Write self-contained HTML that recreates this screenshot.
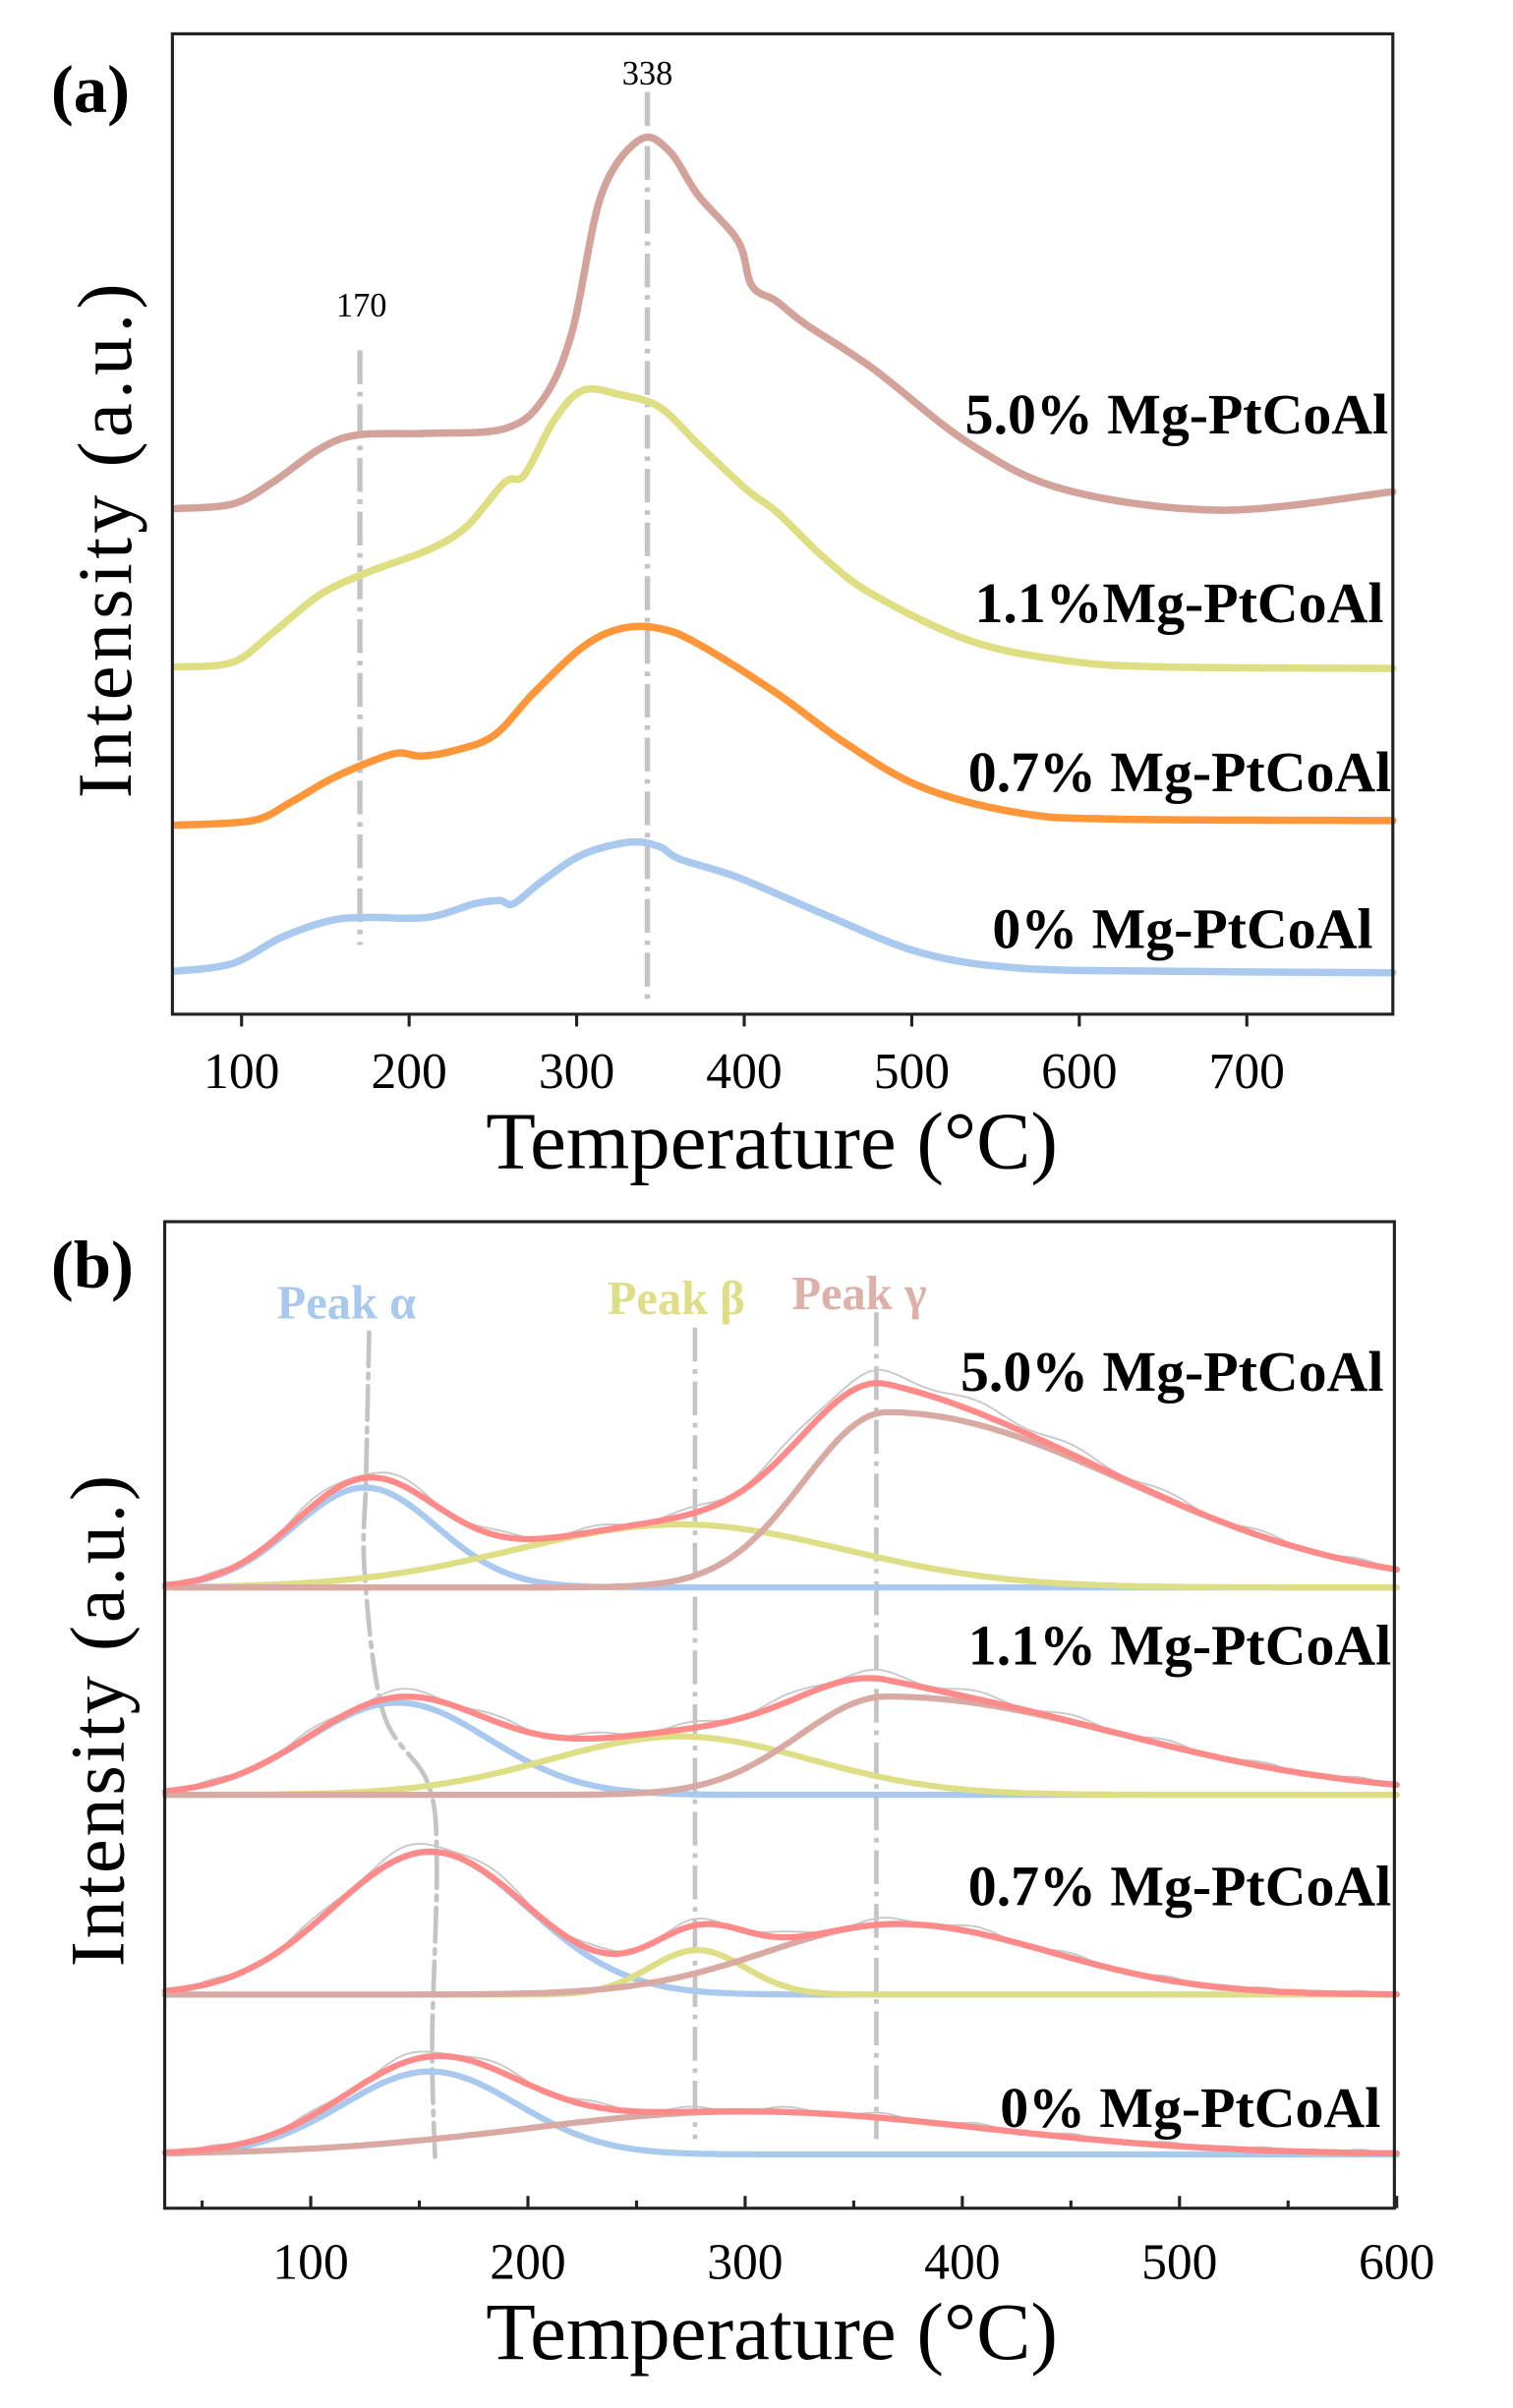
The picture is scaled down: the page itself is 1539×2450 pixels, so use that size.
<!DOCTYPE html>
<html><head><meta charset="utf-8"><style>
html,body{margin:0;padding:0;background:#fff;}
svg{display:block;}
text{font-family:"Liberation Serif",serif;}
</style></head><body>
<svg id="s" xmlns="http://www.w3.org/2000/svg" width="1539" height="2450" viewBox="0 0 984 1567">
<rect width="984" height="1567" fill="#fff"/>
<g id="a"></g>
<rect x="112" y="22" width="794" height="638" fill="none" stroke="#222" stroke-width="2"/>
<text x="33" y="73" font-size="44" font-weight="bold">(a)</text>
<text x="421" y="55" font-size="22" text-anchor="middle">338</text>
<text x="235" y="206" font-size="22" text-anchor="middle">170</text>
<g font-size="37" font-weight="bold" text-anchor="end">
<text x="903" y="282">5.0% Mg-PtCoAl</text>
<text x="900" y="405">1.1%Mg-PtCoAl</text>
<text x="905" y="515">0.7% Mg-PtCoAl</text>
<text x="893" y="617">0% Mg-PtCoAl</text>
</g>
<g font-size="33" text-anchor="middle" id="tla"></g>
<text x="502" y="760" font-size="53" text-anchor="middle">Temperature (°C)</text>
<text transform="translate(85,352) rotate(-90)" font-size="50" text-anchor="middle" textLength="335">Intensity (a.u.)</text>

<g id="b"></g>
<rect x="107" y="795" width="800" height="642" fill="none" stroke="#222" stroke-width="2"/>
<text x="33" y="838" font-size="44" font-weight="bold">(b)</text>
<g font-size="31" font-weight="bold">
<text x="180" y="858" fill="#a9c8ee">Peak α</text>
<text x="395" y="855" fill="#dede86">Peak β</text>
<text x="515" y="852" fill="#ddb0a8">Peak γ</text>
</g>
<g font-size="37" font-weight="bold" text-anchor="end">
<text x="900" y="905">5.0% Mg-PtCoAl</text>
<text x="905" y="1083">1.1% Mg-PtCoAl</text>
<text x="905" y="1240">0.7% Mg-PtCoAl</text>
<text x="898" y="1384">0% Mg-PtCoAl</text>
</g>
<g font-size="33" text-anchor="middle" id="tlb"></g>
<text x="502" y="1535" font-size="53" text-anchor="middle">Temperature (°C)</text>
<text transform="translate(80,1120) rotate(-90)" font-size="50" text-anchor="middle" textLength="320">Intensity (a.u.)</text>
</svg>
<script>
var NS="http://www.w3.org/2000/svg";
function el(p,t,a){var e=document.createElementNS(NS,t);for(var k in a)e.setAttribute(k,a[k]);p.appendChild(e);return e;}
var A=document.getElementById('a'),B=document.getElementById('b');
function poly(g,pts,c,w){var d=pts.map(function(p,i){return (i?'L':'M')+p[0].toFixed(1)+','+p[1].toFixed(1)}).join('');
el(g,'path',{d:d,fill:'none',stroke:c,'stroke-width':w,'stroke-linejoin':'round','stroke-linecap':'round'});}
function smooth(g,pts,c,w){var d='M'+pts[0][0]+','+pts[0][1];
for(var i=0;i<pts.length-1;i++){var p0=pts[Math.max(0,i-1)],p1=pts[i],p2=pts[i+1],p3=pts[Math.min(pts.length-1,i+2)];
d+='C'+(p1[0]+(p2[0]-p0[0])/6).toFixed(1)+','+(p1[1]+(p2[1]-p0[1])/6).toFixed(1)+' '+(p2[0]-(p3[0]-p1[0])/6).toFixed(1)+','+(p2[1]-(p3[1]-p1[1])/6).toFixed(1)+' '+p2[0]+','+p2[1];}
el(g,'path',{d:d,fill:'none',stroke:c,'stroke-width':w,'stroke-linejoin':'round','stroke-linecap':'round'});}
el(A,'line',{x1:234,y1:228,x2:234,y2:615,stroke:'#c4c4c4','stroke-width':3.5,'stroke-dasharray':'22,5,3,5'});
el(A,'line',{x1:421,y1:60,x2:421,y2:650,stroke:'#c4c4c4','stroke-width':3.5,'stroke-dasharray':'22,5,3,5'});
smooth(A,[[114,331],[151,328],[177,314],[208,292],[233,283],[278,282],[328,279],[353,260],[372,216],[391,127],[416,91],[435,98],[454,127],[480,157],[489,186],[505,196],[524,211],[568,240],[631,289],[694,319],[795,332],[906,320]],'#d3a29a',4.8);
smooth(A,[[114,434],[151,431],[177,412],[208,387],[240,372],[278,358],[303,343],[328,314],[341,309],[360,274],[379,254],[404,257],[429,265],[454,289],[486,319],[505,333],[536,363],[568,387],[631,417],[694,430],[757,434],[906,435]],'#dede82',4.8);
smooth(A,[[114,537],[164,534],[189,522],[215,507],[240,496],[259,490],[274,492],[297,488],[322,478],[347,451],[379,421],[404,409],[429,409],[454,419],[505,451],[549,483],[599,512],[663,529],[726,533],[906,534]],'#ff963a',4.8);
smooth(A,[[114,632],[151,627],[183,610],[215,599],[240,597],[278,597],[309,588],[325,586],[334,588],[353,573],[379,556],[410,548],[429,551],[442,559],[480,571],[536,595],[599,620],[663,630],[757,632],[906,633]],'#a9c9ee',4.8);
var tla=document.getElementById('tla');
for(var T=100;T<=700;T+=100){var x=157+(T-100)*1.09;el(A,'line',{x1:x,y1:660,x2:x,y2:668,stroke:'#222','stroke-width':2});
var t=el(tla,'text',{x:x,y:708});t.textContent=T;}
function xb(T){return 202+(T-100)*1.413;}
function g(T,c,h,sl,sr){var s=T<c?sl:(sr||sl);return h*Math.exp(-(T-c)*(T-c)/(2*s*s));}
var sets=[
 {b:1033,comp:[[125,65,33],[270,41,75],[365,114,38,110]],cols:['#a9c9ee','#dede86','#d8aaa3']},
 {b:1168,comp:[[140,60,42],[270,38,60],[365,64,40,110]],cols:['#a9c9ee','#dede86','#d8aaa3']},
 {b:1298,comp:[[155,93,45],[278,29,22],[370,46,60,70]],cols:['#a9c9ee','#dede86','#d8aaa3']},
 {b:1402,comp:[[155,54,40],[300,28,100,110]],cols:['#a9c9ee','#d8aaa3']}];
smooth(B,[[240,867],[238,961],[237,1022],[249,1114],[278,1160],[284,1211],[281,1329],[283,1408]],'#c4c4c4',3);
B.lastChild.setAttribute('stroke-dasharray','22,5,3,5');
el(B,'line',{x1:452,y1:864,x2:452,y2:1392,stroke:'#c4c4c4','stroke-width':3,'stroke-dasharray':'22,5,3,5'});
el(B,'line',{x1:570,y1:854,x2:570,y2:1392,stroke:'#c4c4c4','stroke-width':3,'stroke-dasharray':'22,5,3,5'});
sets.forEach(function(s){
 var sum=[],raw=[];
 s.comp.forEach(function(c,i){var pts=[];
  for(var T=33;T<=600;T+=3){pts.push([xb(T),s.b-g(T,c[0],c[1],c[2],c[3])]);}
  poly(B,pts,s.cols[i],4);});
 for(var T=33;T<=600;T+=3){var v=0;s.comp.forEach(function(c){v+=g(T,c[0],c[1],c[2],c[3]);});
  sum.push([xb(T),s.b-v]);raw.push([xb(T),s.b-v*1.05-2*Math.sin(T/7)]);}
 poly(B,raw,'#c8c8c8',1.2);
 poly(B,sum,'#ff8a8a',4);
});
var tlb=document.getElementById('tlb');
for(var T=50;T<=600;T+=50){var x=xb(T);var maj=T%100==0;
 el(B,'line',{x1:x,y1:1437,x2:x,y2:1437-(maj?8:5),stroke:'#222','stroke-width':2});
 if(maj){var t=el(tlb,'text',{x:x,y:1483});t.textContent=T;}}
</script>
</body></html>
